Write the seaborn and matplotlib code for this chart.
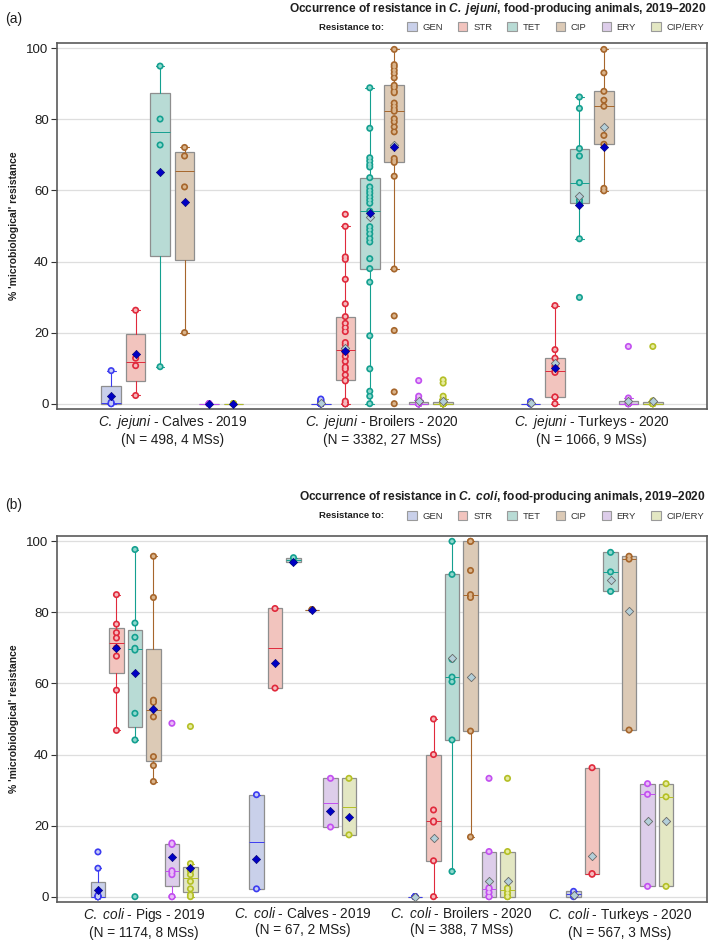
import numpy as np
import pandas as pd
import matplotlib
matplotlib.use("Agg")
import matplotlib.pyplot as plt
import matplotlib.patches as mpatches
import seaborn as sns

sns.set_style("white")
plt.rcParams["font.family"] = ["Liberation Sans", "DejaVu Sans"]
plt.rcParams["mathtext.fontset"] = "custom"
plt.rcParams["mathtext.rm"] = "Liberation Sans"
plt.rcParams["mathtext.it"] = "Liberation Sans:italic"
plt.rcParams["mathtext.bf"] = "Liberation Sans:bold"
plt.rcParams["mathtext.bfit"] = "Liberation Sans:italic:bold"

ANTIMICROBIALS = ["GEN", "STR", "TET", "CIP", "ERY", "CIP/ERY"]
POINT_COLORS = ["#3c3cf0", "#e02a3c", "#14a090", "#a6662c", "#c24ff0", "#b4bf26"]
POINT_FILLS = ["#c6ccf7", "#f6b9bd", "#8fd8cd", "#d9b48c", "#e9bdf7", "#e6eb9e"]
BOX_FILLS = ["#c9d0ea", "#f2c4be", "#b8dbd5", "#dccab6", "#ddcdea", "#e3e7c3"]

# ---- (a) C. jejuni: % resistance per reporting MS ----
jej_labels = [
    r"$\mathit{C.\ jejuni}$ - Calves - 2019" "\n(N = 498, 4 MSs)",
    r"$\mathit{C.\ jejuni}$ - Broilers - 2020" "\n(N = 3382, 27 MSs)",
    r"$\mathit{C.\ jejuni}$ - Turkeys - 2020" "\n(N = 1066, 9 MSs)",
]
jej_calves = {
    "GEN": [0, 0, 0.4, 9.3],
    "STR": [2.3, 10.7, 12.8, 26.3],
    "TET": [10.4, 72.8, 80.1, 95.0],
    "CIP": [20.0, 61.0, 69.7, 72.1],
    "ERY": [0, 0, 0, 0],
    "CIP/ERY": [0, 0, 0, 0],
}
jej_broilers = {
    "GEN": [0, 0, 0, 0, 0, 0, 0, 0, 0, 0, 0, 0, 0, 0, 0, 0, 0, 0, 0, 0, 0, 0,
            0.3, 0.5, 0.7, 1.0, 1.3],
    "STR": [0, 0, 0, 0, 0.7, 6.4, 6.6, 8.1, 9.7, 10.3, 11.9, 13.3, 14.5, 15.1,
            15.4, 16.6, 17.2, 20.3, 21.4, 22.6, 24.5, 28.1, 35.0, 40.6, 41.3,
            49.9, 53.3],
    "TET": [0, 2.1, 3.5, 9.8, 19.1, 34.2, 38.0, 40.8, 45.5, 46.5, 47.8, 48.9,
            49.8, 54.2, 56.4, 57.3, 58.2, 59.2, 60.0, 61.0, 63.6, 66.6, 67.3,
            68.3, 69.2, 77.5, 88.9],
    "CIP": [0, 3.3, 20.6, 24.7, 37.9, 64.0, 67.9, 68.3, 69.0, 76.5, 77.9, 79.3,
            80.2, 82.3, 82.8, 83.7, 84.6, 87.5, 87.9, 89.0, 89.6, 91.7, 92.9,
            93.8, 94.8, 95.4, 99.7],
    "ERY": [0, 0, 0, 0, 0, 0, 0, 0, 0, 0, 0, 0, 0, 0, 0, 0, 0, 0,
            0.2, 0.3, 0.5, 0.7, 1.0, 1.1, 1.3, 2.1, 6.5],
    "CIP/ERY": [0, 0, 0, 0, 0, 0, 0, 0, 0, 0, 0, 0, 0, 0, 0, 0, 0, 0,
                0.2, 0.4, 0.6, 0.9, 1.1, 1.3, 2.1, 5.8, 6.7],
}
jej_turkeys = {
    "GEN": [0, 0, 0, 0, 0, 0, 0, 0.3, 0.6],
    "STR": [0, 1.8, 1.9, 8.8, 9.1, 10.5, 12.8, 15.2, 27.6],
    "TET": [29.9, 46.4, 56.4, 57.3, 62.2, 69.7, 71.8, 83.1, 86.3],
    "CIP": [59.9, 60.6, 73.0, 75.5, 83.7, 85.4, 87.9, 93.1, 99.7],
    "ERY": [0, 0, 0, 0, 0, 0, 0.7, 1.6, 16.1],
    "CIP/ERY": [0, 0, 0, 0, 0, 0, 0.5, 0.8, 16.1],
}
nan = np.nan
# blue diamonds (mean) and grey diamonds, one row per group
jej_mean = [[2.1, 14.0, 65.2, 56.7, 0, 0],
            [nan, 14.9, 53.6, 72.3, nan, nan],
            [nan, 10.0, 55.9, 72.3, nan, nan]]
jej_mean_grey = [[nan, nan, nan, nan, nan, nan],
                 [0.2, 15.6, 52.6, 72.8, 0.7, 0.7],
                 [0.3, 11.4, 58.5, 77.9, 0.7, 0.7]]

# ---- (b) C. coli ----
coli_labels = [
    r"$\mathit{C.\ coli}$ - Pigs - 2019" "\n(N = 1174, 8 MSs)",
    r"$\mathit{C.\ coli}$ - Calves - 2019" "\n(N = 67, 2 MSs)",
    r"$\mathit{C.\ coli}$ - Broilers - 2020" "\n(N = 388, 7 MSs)",
    r"$\mathit{C.\ coli}$ - Turkeys - 2020" "\n(N = 567, 3 MSs)",
]
coli_pigs = {
    "GEN": [0, 0, 0, 0, 0, 0.4, 8.0, 12.6],
    "STR": [46.8, 58.1, 67.7, 70.0, 72.8, 74.3, 76.7, 85.0],
    "TET": [0, 44.1, 51.6, 69.4, 69.9, 73.0, 77.0, 97.7],
    "CIP": [32.4, 36.9, 39.4, 50.6, 54.7, 55.3, 84.2, 95.8],
    "ERY": [0, 0, 6.2, 6.9, 7.3, 14.7, 15.1, 48.8],
    "CIP/ERY": [0, 0.5, 2.2, 4.3, 6.2, 7.3, 9.3, 47.9],
}
coli_calves = {
    "GEN": [2.2, 28.7],
    "STR": [58.7, 81.1],
    "TET": [94.2, 95.4],
    "CIP": [80.8, 80.8],
    "ERY": [19.6, 33.3],
    "CIP/ERY": [17.4, 33.3],
}
coli_broilers = {
    "GEN": [0, 0, 0, 0, 0, 0, 0],
    "STR": [0, 10.1, 21.0, 21.3, 24.4, 40.0, 50.0],
    "TET": [7.1, 44.1, 60.5, 61.8, 66.8, 90.7, 100],
    "CIP": [16.8, 46.6, 84.2, 85.0, 91.8, 100, 100],
    "ERY": [0, 0, 1.2, 2.2, 2.5, 12.7, 33.3],
    "CIP/ERY": [0, 0, 1.0, 2.0, 2.4, 12.7, 33.3],
}
coli_turkeys = {
    "GEN": [0, 0.7, 1.5],
    "STR": [6.3, 6.5, 36.3],
    "TET": [85.9, 91.4, 96.9],
    "CIP": [46.9, 95.0, 95.8],
    "ERY": [2.9, 28.8, 31.8],
    "CIP/ERY": [2.9, 28.1, 31.8],
}
coli_mean = [[1.9, 70.0, 62.9, 52.8, 11.3, 8.1],
             [10.5, 65.8, 94.2, 80.8, 24.0, 22.5],
             [nan, nan, nan, nan, nan, nan],
             [nan, nan, nan, nan, nan, nan]]
coli_mean_grey = [[nan, nan, nan, nan, nan, nan],
                  [nan, nan, nan, nan, nan, nan],
                  [0, 16.5, 67.2, 61.9, 4.5, 4.3],
                  [0.6, 11.5, 89.2, 80.4, 21.4, 21.2]]

DODGE = 0.7
STEP = DODGE / len(ANTIMICROBIALS)
BOX_W = 0.8 * STEP
W, H = 709, 941


def offset(h):
    return (h - (len(ANTIMICROBIALS) - 1) / 2) * STEP


def box_stats(values):
    v = np.asarray(values, dtype=float)
    # SAS-style quartiles (PCTLDEF=5)
    q1, med, q3 = np.percentile(v, [25, 50, 75], method="averaged_inverted_cdf")
    iqr = q3 - q1
    lo = v[v >= q1 - 1.5 * iqr].min()
    hi = v[v <= q3 + 1.5 * iqr].max()
    return dict(med=med, q1=q1, q3=q3, whislo=lo, whishi=hi, fliers=[])


def draw_panel(ax, groups, means, means_grey, labels):
    rows, stats, positions, colors = [], [], [], []
    for g, grp in enumerate(groups):
        for h, ab in enumerate(ANTIMICROBIALS):
            pos = g + offset(h)
            stats.append(box_stats(grp[ab]))
            positions.append(pos)
            colors.append(h)
            for v in grp[ab]:
                rows.append((pos, ab, v))
    df = pd.DataFrame(rows, columns=["pos", "antimicrobial", "value"])

    art = ax.bxp(stats, positions=positions, widths=BOX_W, patch_artist=True,
                 showfliers=False, manage_ticks=False, capwidths=BOX_W * 0.45,
                 zorder=2)
    for i, h in enumerate(colors):
        art["boxes"][i].set_facecolor(BOX_FILLS[h])
        art["boxes"][i].set_edgecolor("#8e8e8e")
        art["boxes"][i].set_linewidth(0.9)
        art["medians"][i].set_color(POINT_COLORS[h])
        art["medians"][i].set_linewidth(0.7)
        for ln in art["whiskers"][2 * i:2 * i + 2] + art["caps"][2 * i:2 * i + 2]:
            ln.set_color(POINT_COLORS[h])
            ln.set_linewidth(0.8)

    sns.scatterplot(data=df, x="pos", y="value", hue="antimicrobial",
                    hue_order=ANTIMICROBIALS, palette=POINT_COLORS, s=26,
                    linewidth=0, legend=False, ax=ax, zorder=4)
    sns.scatterplot(data=df, x="pos", y="value", hue="antimicrobial",
                    hue_order=ANTIMICROBIALS, palette=POINT_FILLS, s=7,
                    linewidth=0, legend=False, ax=ax, zorder=5)

    mrows = []
    for g in range(len(groups)):
        for h in range(len(ANTIMICROBIALS)):
            mrows.append((g + offset(h), means[g][h], means_grey[g][h]))
    mdf = pd.DataFrame(mrows, columns=["pos", "mean", "grey"])
    sns.scatterplot(data=mdf, x="pos", y="grey", marker="D", color="#b3cfd9",
                    edgecolor="#6a6a6a", linewidth=0.6, s=18, ax=ax, zorder=6)
    sns.scatterplot(data=mdf, x="pos", y="mean", marker="D", color="#0000c4",
                    edgecolor="#00006a", linewidth=0.4, s=18, ax=ax, zorder=7)

    ax.set_xlim(-0.55, len(groups) - 0.45)
    ax.set_ylim(-1.5, 101.5)
    ax.set_yticks([0, 20, 40, 60, 80, 100])
    ax.set_xticks(range(len(groups)))
    ax.set_xticklabels(labels, fontsize=9.8, color="#1e1e1e", linespacing=1.2)
    ax.tick_params(axis="x", length=0, pad=3)
    ax.tick_params(axis="y", length=4, width=0.8, color="#333333",
                   labelsize=9.5, labelcolor="#1e1e1e", pad=2, left=True)
    ax.yaxis.grid(True, color="#dedede", linewidth=0.9)
    ax.xaxis.grid(False)
    ax.set_axisbelow(True)
    for sp in ax.spines.values():
        sp.set_visible(True)
        sp.set_color("#5a5a5a")
        sp.set_linewidth(1.2)
    ax.set_xlabel("")
    ax.set_ylabel("% 'microbiological' resistance", fontsize=7.5,
                  fontweight="bold", color="#1e1e1e", labelpad=5)


def header(fig, title, y_title, y_leg, tag, y_tag):
    fig.text(706 / W, 1 - y_title / H, title, ha="right", va="center",
             fontsize=8.6, fontweight="bold", color="#1e1e1e")
    fig.text(384 / W, 1 - y_leg / H, "Resistance to:", ha="right",
             va="center", fontsize=6.8, fontweight="bold", color="#1e1e1e")
    handles = [mpatches.Patch(facecolor=c, edgecolor="#9a9a9a", linewidth=0.8)
               for c in BOX_FILLS]
    fig.legend(handles, ANTIMICROBIALS, loc="center right",
               bbox_to_anchor=(704 / W, 1 - y_leg / H), ncol=6, frameon=False,
               fontsize=6.8, handlelength=1.0, handleheight=1.0,
               handletextpad=0.6, columnspacing=1.6, borderpad=0,
               borderaxespad=0, labelcolor="#333333")
    fig.text(5 / W, 1 - y_tag / H, tag, ha="left", va="center", fontsize=10,
             color="#1e1e1e")


def main():
    fig = plt.figure(figsize=(W / 100, H / 100), dpi=100)
    ax_a = fig.add_axes([57 / W, 1 - 409 / H, 650 / W, 366 / H])
    ax_b = fig.add_axes([57 / W, 1 - 902 / H, 650 / W, 366 / H])

    draw_panel(ax_a, [jej_calves, jej_broilers, jej_turkeys],
               jej_mean, jej_mean_grey, jej_labels)
    draw_panel(ax_b, [coli_pigs, coli_calves, coli_broilers, coli_turkeys],
               coli_mean, coli_mean_grey, coli_labels)

    header(fig, r"Occurrence of resistance in $\mathbfit{C.\ jejuni}$, "
                "food-producing animals, 2019\u20132020", 9, 27, "(a)", 19)
    header(fig, r"Occurrence of resistance in $\mathbfit{C.\ coli}$, "
                "food-producing animals, 2019\u20132020", 497, 516, "(b)", 505)

    fig.savefig("out.png", dpi=100)


if __name__ == "__main__":
    main()
